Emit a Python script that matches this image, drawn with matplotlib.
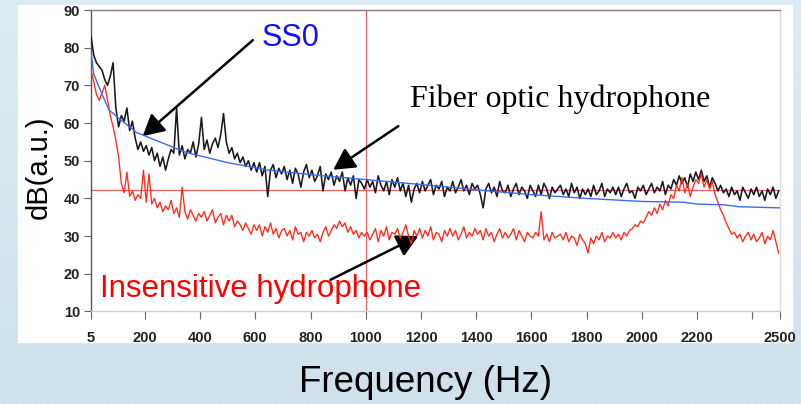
import numpy as np
import matplotlib
matplotlib.use("Agg")
import matplotlib.pyplot as plt
from matplotlib.patches import Rectangle

# frequency bins (Hz), one value every 10 Hz
freq = np.arange(5, 2500, 10)

# fiber optic hydrophone (black), dB
fiber_db = [
    83, 78, 76, 75, 74, 71.5, 70, 72.5, 76, 64,
    59, 62, 60.5, 64, 58, 60.5, 56, 53, 55, 52.5,
    54, 51.5, 53.5, 50, 52, 48.5, 51, 47.5, 50.5, 53,
    52, 64, 51.5, 54, 50.5, 53, 52, 55, 51, 54.5,
    61.5, 53, 55.5, 52, 54.5, 56, 53.5, 57, 62.5, 55,
    52, 53.5, 50.5, 52, 49.5, 51, 48.5, 50, 47.5, 49.5,
    47, 49.5, 46, 48.5, 40.5, 47.5, 49, 45.5, 48, 46.5,
    48.5, 45, 47.5, 44, 48, 46.5, 43, 47, 49, 45.5,
    47.5, 44.5, 46, 48.5, 42, 46.5, 45, 47, 43.5, 46,
    44.5, 47, 42, 45.5, 43.5, 46, 40, 45, 44, 42.5,
    45, 43, 44.5, 41.5, 46, 43.5, 42, 44.5, 41, 45,
    43, 45.5, 42, 44, 40.5, 43.5, 39, 42.5, 44, 41.5,
    44.5, 42, 43.5, 45, 41, 43.5, 42.5, 44.5, 40.5, 43,
    42, 44.5, 41.5, 43, 45, 42, 43.5, 41, 44, 42.5,
    43.5, 41, 37.5, 42.5, 44, 41.5, 43, 40.5, 44.5, 42,
    41.5, 43.5, 40.5, 42.5, 44, 41, 43, 42, 40, 43.5,
    42, 40.5, 43.5, 41, 44, 42.5, 40, 43, 41.5, 42.5,
    43.5, 41, 42.5, 40.5, 44, 41.5, 43, 40, 42.5, 41,
    42.5, 40.5, 43.5, 41, 42, 44, 40.5, 42.5, 41.5, 43,
    41, 43, 40.5, 42.5, 44, 41.5, 42, 40, 43, 42,
    43.5, 41, 42.5, 44, 41.5, 43, 42, 44.5, 41, 43.5,
    42.5, 45, 43.5, 46, 44, 45.5, 43, 46.5, 44.5, 47,
    45, 47.5, 44.5, 46, 43, 45.5, 44, 42, 43.5, 41.5,
    42.5, 40.5, 43, 41, 42, 39.5, 43, 41.5, 40, 42.5,
    41, 43, 40.5, 42, 39.5, 42.5, 41, 43, 40, 42,
]

# insensitive hydrophone (red), dB
insens_db = [
    74, 71, 67.5, 66, 68, 70, 66, 62, 59, 55.5,
    51, 44, 41.5, 47, 40.5, 42, 39.5, 41, 40, 47.5,
    39, 46.5, 38.5, 40, 37.5, 39, 36.5, 38, 37, 39.5,
    36, 37.5, 35, 43, 36.5, 34.5, 37, 35.5, 34, 36,
    35, 36.5, 34, 35.5, 37, 33.5, 35, 36, 33, 35.5,
    34, 35.5, 32.5, 34, 33, 31.5, 33.5, 32, 30.5, 33,
    31.5, 33, 30, 32.5, 31, 33.5, 30.5, 32, 29.5, 31.5,
    32, 30, 31.5, 29, 32.5, 30.5, 31, 28.5, 31, 30,
    31.5, 29.5, 30.5, 28.5, 31, 32.5, 30, 31.5, 33, 32,
    34, 32.5, 33.5, 31, 32.5, 30.5, 31.5, 29.5, 31, 30,
    31, 29, 30.5, 32, 28.5, 31.5, 30, 32.5, 29, 31,
    30.5, 32, 29.5, 31, 33, 30, 28, 31.5, 30, 32,
    29.5, 31.5, 30, 32.5, 29, 31, 30.5, 28.5, 31.5, 30,
    32, 30, 31.5, 29, 30.5, 32.5, 29.5, 31, 30, 32,
    30.5, 31.5, 29, 32, 30, 31, 28.5, 30.5, 32, 29.5,
    31, 29.5, 30.5, 32, 29, 31.5, 30, 28.5, 31, 30,
    29.5, 31, 30, 36.5, 29, 30.5, 28.5, 31, 29.5, 30,
    30.5, 29, 31, 28.5, 30, 29.5, 27.5, 30.5, 29, 28,
    25.5, 29.5, 28, 30, 29, 31, 28.5, 30, 29.5, 31,
    29.5, 30.5, 29, 31, 30, 31.5, 32, 33, 32.5, 34,
    33.5, 35, 36.5, 35.5, 37.5, 36, 38.5, 37, 39.5, 38,
    41, 40, 43.5, 42, 45.5, 41.5, 44, 40.5, 43, 45,
    44, 46.5, 43, 45, 42.5, 44.5, 41, 39, 37, 35.5,
    33.5, 32, 30.5, 31, 29.5, 30.5, 28.5, 30, 31, 29,
    30.5, 28.5, 29.5, 31, 28, 30, 29, 31.5, 28.5, 25.5,
]

# SS0 model curve (blue)
ss0_freq = [5, 15, 40, 70, 110, 170, 230, 350, 500, 640, 800, 1000,
            1200, 1400, 1600, 1800, 2000, 2150, 2200, 2300, 2350, 2500]
ss0_db = [79, 73, 68.5, 63.5, 61, 57.5, 55.7, 52.2, 49.5, 47.6, 46.3, 45,
          43.7, 42.3, 41, 40, 39.2, 39, 38.5, 38.3, 37.8, 37.5]

x_ticks = [5, 200, 400, 600, 800, 1000, 1200, 1400, 1600, 1800, 2000, 2200, 2400, 2500]
x_labels = ["5", "200", "400", "600", "800", "1000", "1200", "1400", "1600",
            "1800", "2000", "2200", "", "2500"]
y_ticks = [10, 20, 30, 40, 50, 60, 70, 80, 90]

plt.rcParams["font.family"] = ["Liberation Sans", "DejaVu Sans"]

fig = plt.figure(figsize=(8.01, 4.04), dpi=100)

# slide background: light blue gradient + white panel
bg = fig.add_axes([0, 0, 1, 1], zorder=-10)
grad = np.linspace(0, 1, 256).reshape(-1, 1)
bg.imshow(grad, aspect="auto", cmap=matplotlib.colors.LinearSegmentedColormap.from_list(
    "bg", ["#dcecf4", "#cfe1eb"]), extent=[0, 1, 0, 1])
bg.add_patch(Rectangle((0.0225, 0.1535), 0.966, 0.834, color="white", zorder=2))
bg.set_xlim(0, 1)
bg.set_ylim(0, 1)
bg.axis("off")

ax = fig.add_axes([0.1136, 0.229, 0.8602, 0.7462])
ax.set_facecolor("white")

ax.plot(freq, fiber_db, color="#1a1a1a", lw=1.15, zorder=3)
ax.plot(freq, insens_db, color="#ff2a1a", lw=0.95, zorder=4)
ax.plot(ss0_freq, ss0_db, color="#3a6cf0", lw=1.0, zorder=5)

ax.axhline(42.2, color="#e86060", lw=0.9, zorder=2)
ax.axvline(1000, color="#e86060", lw=0.9, zorder=2)

ax.set_xlim(5, 2500)
ax.set_ylim(10, 90)
ax.set_xticks(x_ticks)
ax.set_xticklabels(x_labels, fontweight="bold", fontsize=10.5, color="#222222")
ax.set_yticks(y_ticks)
ax.set_yticklabels([str(v) for v in y_ticks], fontweight="bold", fontsize=10.5,
                   color="#222222")
ax.tick_params(axis="x", direction="out", length=6, pad=8, color="#666666")
ax.tick_params(axis="y", direction="out", length=5, pad=3, color="#666666")

ax.spines["left"].set_color("#555566")
ax.spines["top"].set_color("#8a7a7a")
ax.spines["right"].set_color("#dddddd")
ax.spines["bottom"].set_color("#d8c8d0")
for s in ax.spines.values():
    s.set_linewidth(1.0)

# annotations
arrow = dict(arrowstyle="-|>,head_length=1.3,head_width=0.7", color="black", lw=1.8,
             shrinkA=0, shrinkB=0)
ax.text(624, 82.5, "SS0", color="#1010ff", fontsize=22, va="center", ha="left")
ax.annotate("", xy=(192, 56.5), xytext=(591, 82), arrowprops=arrow)

ax.text(1161, 66.4, "Fiber optic hydrophone", fontsize=23, va="center", ha="left",
        family=["Liberation Serif", "DejaVu Serif"])
ax.annotate("", xy=(882, 47.6), xytext=(1118, 59.2), arrowprops=arrow)

ax.text(36, 16, "Insensitive hydrophone", color="#ff0000", fontsize=22.5,
        va="center", ha="left")
ax.annotate("", xy=(1190, 30), xytext=(872, 18.4), arrowprops=arrow)

fig.text(0.048, 0.585, "dB(a.u.)", rotation=90, fontsize=21, ha="center", va="center")
fig.text(0.531, 0.052, "Frequency (Hz)", fontsize=26.5, ha="center", va="center")

fig.savefig("out.png", dpi=100)
